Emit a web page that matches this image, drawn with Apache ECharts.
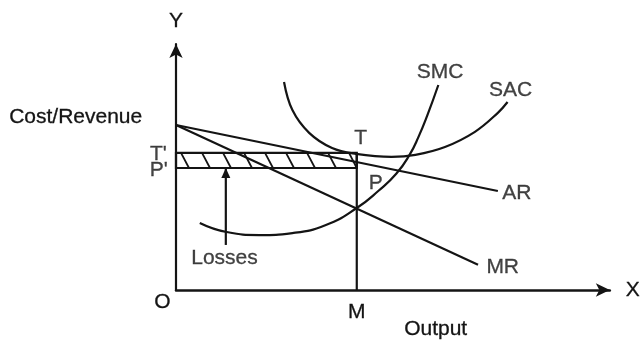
<!DOCTYPE html>
<html>
<head>
<meta charset="utf-8">
<script src="https://cdn.jsdelivr.net/npm/echarts@6/dist/echarts.min.js"></script>
<style>
  html, body { margin: 0; padding: 0; background: #fff; }
  #chart { width: 643px; height: 343px; }
</style>
</head>
<body>
<div id="chart"></div>
<script>
// values (x = output, y = cost / revenue, arbitrary units)
const smc = [[5.4, 26.5], [11.5, 22.9], [18.9, 21.7], [26.4, 22.5], [34.0, 25.7], [41.0, 32.4],
  [46.0, 39.3], [50.0, 46.0], [53.0, 53.5], [55.0, 60.5], [57.0, 69.0], [59.5, 81.0]];
const sac = [[24.5, 82.2], [26.4, 71.1], [30.2, 62.1], [35.4, 56.1], [40.8, 53.8], [48.9, 52.6],
  [54.3, 53.4], [61.0, 56.5], [67.8, 62.5], [73.0, 70.0], [75.2, 74.3]];
const ar = [[0, 65.2], [73.0, 39.1]];
const mr = [[0, 65.2], [68.5, 10.0]];
const outputM = 41.0;   // M
const costT = 54.2;     // T'
const priceP = 48.2;    // P'
const lossArrow = [11.3, 17.8]; // foot of the "Losses" pointer

// labels anchored in data units
const notes = [
  { name: 'SMC', value: [59.9, 86.2] },
  { name: 'SAC', value: [75.9, 79.1] },
  { name: 'AR', value: [77.3, 38.3] },
  { name: 'MR', value: [74.1, 9.1] },
  { name: 'T', value: [41.9, 60.0] },
  { name: 'P', value: [45.3, 42.3] },
  { name: 'Losses', value: [11.0, 12.6] },
  { name: "T'", value: [-4.0, 53.6] },
  { name: "P'", value: [-3.9, 47.4] }
];

const ink = '#141414';
const font = '"Liberation Sans", Arial, sans-serif';
const fs = 21;

const chart = echarts.init(document.getElementById('chart'), null, { renderer: 'canvas' });

const plain = (data, extra) => Object.assign({
  type: 'line',
  data: data,
  showSymbol: false,
  symbol: 'none',
  silent: true,
  lineStyle: { color: ink, width: 2.2 },
  z: 3
}, extra || {});

const textStyle = { color: ink, fontSize: fs, fontFamily: font, textBorderColor: ink, textBorderWidth: 0.3 };

chart.setOption({
  animation: false,
  backgroundColor: '#fff',
  grid: { left: 176, right: 30, top: 44, bottom: 53 },
  xAxis: {
    type: 'value',
    min: 0,
    max: 98.4,
    name: 'X',
    nameLocation: 'end',
    nameGap: 16,
    nameTextStyle: Object.assign({ verticalAlign: 'middle' }, textStyle),
    axisLine: { show: true, symbol: ['none', 'arrow'], symbolSize: [10, 14], lineStyle: { color: ink, width: 2.5 } },
    axisTick: { show: false },
    splitLine: { show: false },
    axisLabel: Object.assign({
      show: true,
      customValues: [outputM],
      formatter: () => 'M',
      margin: 12
    }, textStyle)
  },
  yAxis: {
    type: 'value',
    min: 0,
    max: 97.2,
    name: 'Y',
    nameLocation: 'end',
    nameGap: 12,
    nameTextStyle: Object.assign({ align: 'center' }, textStyle),
    axisLine: { show: true, symbol: ['none', 'arrow'], symbolSize: [10, 14], lineStyle: { color: ink, width: 2.2 } },
    axisTick: { show: false },
    splitLine: { show: false },
    axisLabel: { show: false }
  },
  graphic: [
    { type: 'text', left: 9, top: 107, style: { text: 'Cost/Revenue', font: fs + 'px ' + font, fill: ink, stroke: ink, lineWidth: 0.3 } },
    { type: 'text', left: 404, top: 319, style: { text: 'Output', font: fs + 'px ' + font, fill: ink, stroke: ink, lineWidth: 0.3 } },
    { type: 'text', left: 154, top: 292, style: { text: 'O', font: fs + 'px ' + font, fill: ink, stroke: ink, lineWidth: 0.3 } }
  ],
  series: [
    {
      type: 'custom',
      silent: true,
      z: 2,
      data: [[0, costT, outputM, priceP]],
      renderItem: (params, api) => {
        const a = api.coord([api.value(0), api.value(1)]);
        const b = api.coord([api.value(2), api.value(3)]);
        const kids = [{
          type: 'rect',
          shape: { x: a[0], y: a[1], width: b[0] - a[0], height: b[1] - a[1] },
          style: { fill: 'none', stroke: ink, lineWidth: 2.2 }
        }];
        for (let x = a[0] + 5; x < b[0] - 4; x += 21) {
          kids.push({
            type: 'line',
            shape: { x1: x, y1: a[1], x2: Math.min(x + 8, b[0]), y2: b[1] },
            style: { stroke: ink, lineWidth: 1.8 }
          });
        }
        return { type: 'group', children: kids };
      }
    },
    plain(smc, { smooth: 0.5 }),
    plain(sac, { smooth: 0.4 }),
    plain(ar),
    plain(mr),
    plain([[outputM, 0], [outputM, costT]]),
    plain([
      { value: lossArrow, symbol: 'none' },
      { value: [lossArrow[0], priceP], symbol: 'triangle', symbolSize: [9, 10], symbolOffset: [0, 5] }
    ], { showSymbol: true, symbol: 'triangle', itemStyle: { color: ink } }),
    {
      type: 'scatter',
      silent: true,
      clip: false,
      symbolSize: 0,
      data: notes,
      label: Object.assign({
        show: true,
        position: 'inside',
        formatter: p => p.name
      }, textStyle)
    }
  ]
});
</script>
</body>
</html>
